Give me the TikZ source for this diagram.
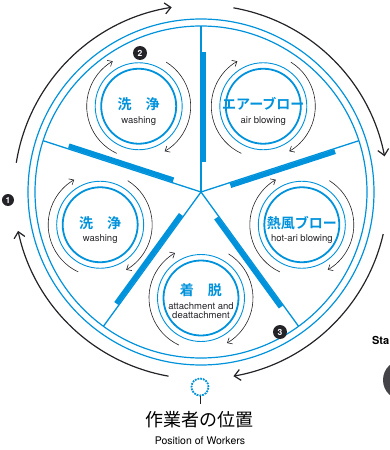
\documentclass[tikz,border=0pt]{standalone}
\usepackage{fontspec}
\setmainfont{TeX Gyre Heros}
\setsansfont{TeX Gyre Heros}
\newfontfamily\jpfont{Noto Sans CJK JP}[BoldFont={* Bold}]
\usetikzlibrary{calc,arrows.meta}
\definecolor{ringblue}{RGB}{0,146,219}
\definecolor{arcgray}{RGB}{35,35,40}
\tikzset{every picture/.style={/utils/exec={\sffamily}}}
\tikzstyle{line}=[semithick]
\tikzstyle{arrow}=[line,arcgray,-{Straight Barb[length=4pt,width=7pt]}]
\tikzstyle{bigarrow}=[line,arcgray,line width=1.2pt,-{Straight Barb[length=6pt,width=11pt]}]
\tikzstyle{ring}=[ringblue,line width=1.2pt]
\tikzstyle{bar}=[ringblue,line width=5pt]
\tikzstyle{station}=[circle,draw=ringblue,line width=0.9pt,minimum size=87pt,inner sep=0pt]
\tikzstyle{jplabel}=[text=ringblue,font=\jpfont\bfseries\fontsize{14}{14}\selectfont]
\tikzstyle{enlabel}=[text=arcgray,font=\fontsize{9.5}{9.5}\selectfont,align=center,anchor=north,inner sep=0pt]
\tikzstyle{num}=[circle,fill=arcgray,text=white,font=\bfseries\fontsize{8.5}{8.5}\selectfont,inner sep=0pt,minimum size=14pt]
\tikzstyle{worker}=[circle,draw=ringblue,line width=1.8pt,densely dotted,minimum size=17pt,inner sep=0pt]

\begin{document}
\begin{tikzpicture}[x=1pt,y=1pt]
    \useasboundingbox (-201,-258) rectangle (189,192);
    \clip (-201,-258) rectangle (189,192);
    \coordinate (Hub) at (0,0);
    % turntable
    \draw[ring] (Hub) circle[radius=173];
    \draw[ring] (Hub) circle[radius=166];
    \foreach \a in {90,162,234,306,18} {
      \draw[ring,line width=1.3pt] (Hub) -- (\a:166);
      \draw[bar,rotate=\a] (30,-3) -- (140,-3);
    }
    % stations
    \foreach \n/\a/\dy/\jp/\en in {Wash1/198/0/{洗　浄}/washing,
        Wash2/126/0/{洗　浄}/washing,
        Air/54/0/{エアーブロー}/{air blowing},
        Hot/-18/0/{熱風ブロー}/{hot-ari blowing},
        Att/270/6/{着　脱}/{attachment and\\deattachment}} {
      \node[station] (\n) at (\a:106) {};
      \draw[ring,line width=1.8pt] (\n.center) circle[radius=37.5];
      \node[jplabel] (\n-jp) at ([yshift={\dy+2}]\n.center) {\jp};
      \node[enlabel] (\n-en) at ([yshift={\dy-10}]\n.center) {\en};
      \draw[arrow] ([shift={(245:52)}]\n.center) arc[start angle=245,end angle=120,radius=52];
      \draw[arrow] ([shift={(58:52)}]\n.center) arc[start angle=58,end angle=-60,radius=52];
    }
    % rotation
    \foreach \s/\e in {171/99,80/11,-13/-80,260/192}
      \draw[bigarrow] (\s:187) arc[start angle=\s,end angle=\e,radius=187];
    \node[num,minimum size=12pt] (Num1) at (-193,-8) {1};
    \node[num] (Num2) at (-61,139) {2};
    \node[num] (Num3) at (79,-140) {3};
    % worker
    \node[worker] (Worker) at (-1,-195) {};
    \coordinate (Stem) at ($(Worker.south)+(0,-8)$);
    \draw[line,arcgray] (Worker.south) -- (Stem);
    \node[font=\jpfont\fontsize{18}{18}\selectfont] (WorkerJp) at (-1,-228) {作業者の位置};
    \node[font=\fontsize{10.5}{10.5}\selectfont] (WorkerEn) at (-1,-249) {Position of Workers};
    % next figure
    \node[font=\bfseries\fontsize{11}{11}\selectfont,anchor=east,inner sep=0.5pt] (Sta) at (189,-148) {Sta};
    \fill[arcgray!85] (202,-188) circle[radius=20];
  \end{tikzpicture}
\end{document}
